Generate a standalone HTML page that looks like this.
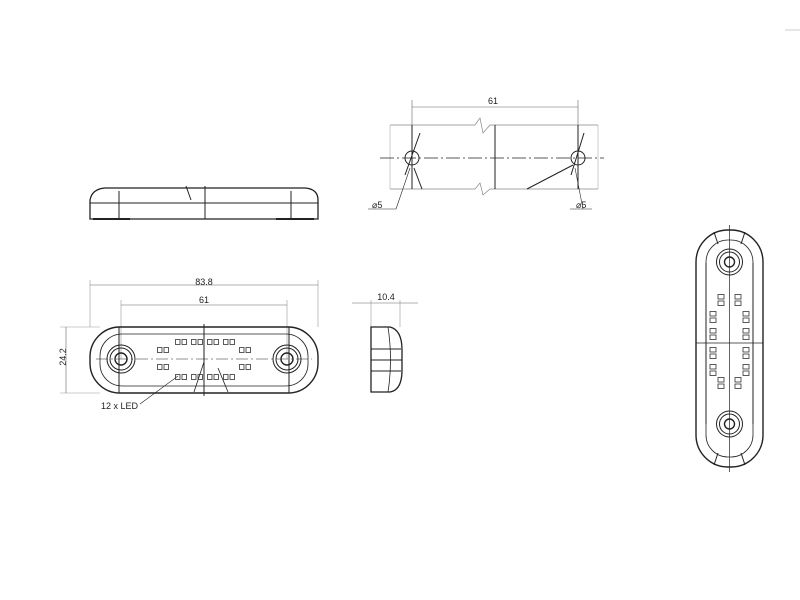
<!DOCTYPE html>
<html><head><meta charset="utf-8"><style>html,body{margin:0;padding:0;background:#fff;}svg{display:block}</style></head>
<body>
<svg width="800" height="600" viewBox="0 0 800 600" xmlns="http://www.w3.org/2000/svg" font-family="Liberation Sans, sans-serif">
<defs>
<g id="led" fill="none" stroke="#333" stroke-width="0.8"><rect x="-5.5" y="-2.5" width="4.5" height="5"/><rect x="1" y="-2.5" width="4.5" height="5"/></g>
<g id="ledv" fill="none" stroke="#333" stroke-width="0.8"><rect x="-3" y="-5.5" width="6" height="4.5"/><rect x="-3" y="1" width="6" height="4.5"/></g>
</defs>
<rect width="800" height="600" fill="#fff"/>
<line x1="785" y1="30" x2="800" y2="30" stroke="#ccc"/>

<!-- top side view -->
<g fill="none" stroke="#222" stroke-width="1">
<path d="M90,219 L90,200 Q92,189 105,188 L305,188 Q318,189 318,200 L318,219 Z" stroke-width="1.3"/>
<line x1="90" y1="203" x2="318" y2="203"/>
<line x1="119" y1="191" x2="119" y2="219"/>
<line x1="205" y1="186" x2="205" y2="219"/>
<line x1="291" y1="191" x2="291" y2="219"/>
<line x1="186" y1="186" x2="191" y2="200"/>
<line x1="93" y1="219" x2="130" y2="219" stroke-width="2"/>
<line x1="276" y1="219" x2="314" y2="219" stroke-width="2"/>
</g>

<!-- front view -->
<g fill="none" stroke="#222" stroke-width="1">
<line x1="90" y1="280" x2="90" y2="327" stroke="#999" stroke-width="0.6"/>
<line x1="318" y1="280" x2="318" y2="327" stroke="#999" stroke-width="0.6"/>
<line x1="90" y1="285" x2="318" y2="285" stroke="#666" stroke-width="0.6"/>
<line x1="121" y1="300" x2="121" y2="359" stroke="#999" stroke-width="0.6"/>
<line x1="287" y1="300" x2="287" y2="359" stroke="#999" stroke-width="0.6"/>
<line x1="121" y1="305" x2="287" y2="305" stroke="#666" stroke-width="0.6"/>
<line x1="60" y1="327" x2="100" y2="327" stroke="#999" stroke-width="0.6"/>
<line x1="60" y1="393" x2="100" y2="393" stroke="#999" stroke-width="0.6"/>
<line x1="66" y1="327" x2="66" y2="393" stroke="#666" stroke-width="0.6"/>
<rect x="90" y="327" width="228" height="66" rx="30" stroke-width="1.4"/>
<rect x="100" y="334" width="208" height="52" rx="22" stroke-width="0.8"/>
<line x1="119" y1="327" x2="119" y2="393"/>
<line x1="289" y1="327" x2="289" y2="393"/>
<line x1="204" y1="324" x2="204" y2="396"/>
<line x1="96" y1="359" x2="312" y2="359" stroke-width="0.6" stroke-dasharray="12,3,2,3"/>
<circle cx="121" cy="359" r="14"/><circle cx="121" cy="359" r="11"/><circle cx="121" cy="359" r="6" stroke-width="1.4"/>
<circle cx="287" cy="359" r="14"/><circle cx="287" cy="359" r="11"/><circle cx="287" cy="359" r="6" stroke-width="1.4"/>
<line x1="140" y1="404" x2="178" y2="376" stroke-width="0.6"/>
<line x1="194" y1="392" x2="204" y2="362" stroke-width="0.8"/>
<line x1="228" y1="392" x2="218" y2="368" stroke-width="0.8"/>
</g>
<use href="#led" x="181" y="342"/><use href="#led" x="197" y="342"/><use href="#led" x="213" y="342"/><use href="#led" x="229" y="342"/>
<use href="#led" x="163" y="350"/><use href="#led" x="245" y="350"/>
<use href="#led" x="163" y="367"/><use href="#led" x="245" y="367"/>
<use href="#led" x="181" y="377"/><use href="#led" x="197" y="377"/><use href="#led" x="213" y="377"/><use href="#led" x="229" y="377"/>
<g font-size="9" fill="#222">
<text x="204" y="285" text-anchor="middle">83.8</text>
<text x="204" y="303" text-anchor="middle">61</text>
<text x="66" y="357" text-anchor="middle" transform="rotate(-90 66 357)">24.2</text>
<text x="101" y="409">12 x LED</text>
</g>

<!-- top right view -->
<g fill="none" stroke="#222" stroke-width="1">
<line x1="412" y1="100" x2="412" y2="189" stroke="#666" stroke-width="0.6"/>
<line x1="578" y1="100" x2="578" y2="189" stroke="#666" stroke-width="0.6"/>
<line x1="412" y1="107" x2="578" y2="107" stroke="#666" stroke-width="0.6"/>
<polyline points="390,125 475,125 480,118 483,133 490,125 598,125" stroke="#888" stroke-width="0.7"/>
<polyline points="390,189 475,189 480,183 483,195 490,189 598,189" stroke="#888" stroke-width="0.7"/>
<line x1="390" y1="125" x2="390" y2="189" stroke="#aaa" stroke-width="0.6"/>
<line x1="598" y1="125" x2="598" y2="189" stroke="#aaa" stroke-width="0.6"/>
<line x1="412" y1="125" x2="412" y2="189"/>
<line x1="495" y1="125" x2="495" y2="189"/>
<line x1="578" y1="125" x2="578" y2="189"/>
<line x1="380" y1="158" x2="604" y2="158" stroke-width="0.8" stroke-dasharray="14,3,2,3"/>
<circle cx="412" cy="158" r="7"/><circle cx="578" cy="158" r="7"/>
<line x1="405" y1="175" x2="420" y2="133"/><line x1="414" y1="168" x2="422" y2="189"/>
<line x1="571" y1="175" x2="584" y2="133"/><line x1="527" y1="189" x2="573" y2="165"/>
<line x1="396" y1="209" x2="410" y2="168" stroke-width="0.6"/>
<line x1="583" y1="209" x2="575" y2="168" stroke-width="0.6"/>
<line x1="368" y1="209" x2="396" y2="209" stroke-width="0.6"/>
<line x1="570" y1="209" x2="592" y2="209" stroke-width="0.6"/>
</g>
<g font-size="9" fill="#222">
<text x="493" y="104" text-anchor="middle">61</text>
<text x="372" y="208">⌀5</text>
<text x="576" y="208">⌀5</text>
</g>

<!-- small side view -->
<g fill="none" stroke="#222" stroke-width="1">
<line x1="371" y1="300" x2="371" y2="327" stroke="#999" stroke-width="0.6"/>
<line x1="400" y1="300" x2="400" y2="327" stroke="#999" stroke-width="0.6"/>
<line x1="352" y1="303" x2="418" y2="303" stroke="#666" stroke-width="0.6"/>
<path d="M371,327 L390,327 Q402,330 402,350 L402,370 Q402,390 390,392 L371,392 Z" stroke-width="1.3"/>
<line x1="371" y1="349" x2="401" y2="349"/>
<line x1="371" y1="360" x2="402" y2="360"/>
<line x1="371" y1="371" x2="401" y2="371"/>
<path d="M388,327 Q393,360 388,392" stroke-width="0.8"/>
</g>
<text x="386" y="300" font-size="9" fill="#222" text-anchor="middle">10.4</text>

<!-- vertical view -->
<g fill="none" stroke="#222" stroke-width="1">
<rect x="696" y="230" width="67" height="237" rx="32" stroke-width="1.4"/>
<rect x="706" y="240" width="47" height="217" rx="22" stroke-width="0.8"/>
<line x1="706" y1="263" x2="706" y2="424"/>
<line x1="753" y1="263" x2="753" y2="424"/>
<line x1="729.5" y1="225" x2="729.5" y2="472" stroke-width="0.7"/>
<line x1="696" y1="343" x2="763" y2="343" stroke-width="0.8"/>
<circle cx="729.5" cy="262" r="13"/><circle cx="729.5" cy="262" r="10"/><circle cx="729.5" cy="262" r="5" stroke-width="1.4"/>
<circle cx="729.5" cy="424" r="13"/><circle cx="729.5" cy="424" r="10"/><circle cx="729.5" cy="424" r="5" stroke-width="1.4"/>
<line x1="714" y1="232" x2="718" y2="244"/><line x1="745" y1="232" x2="741" y2="244"/>
<line x1="714" y1="465" x2="718" y2="453"/><line x1="745" y1="465" x2="741" y2="453"/>
</g>
<use href="#ledv" x="721" y="300"/><use href="#ledv" x="738" y="300"/>
<use href="#ledv" x="713" y="317"/><use href="#ledv" x="746" y="317"/>
<use href="#ledv" x="713" y="334"/><use href="#ledv" x="746" y="334"/>
<use href="#ledv" x="713" y="353"/><use href="#ledv" x="746" y="353"/>
<use href="#ledv" x="713" y="370"/><use href="#ledv" x="746" y="370"/>
<use href="#ledv" x="721" y="383"/><use href="#ledv" x="738" y="383"/>
</svg>
</body></html>
